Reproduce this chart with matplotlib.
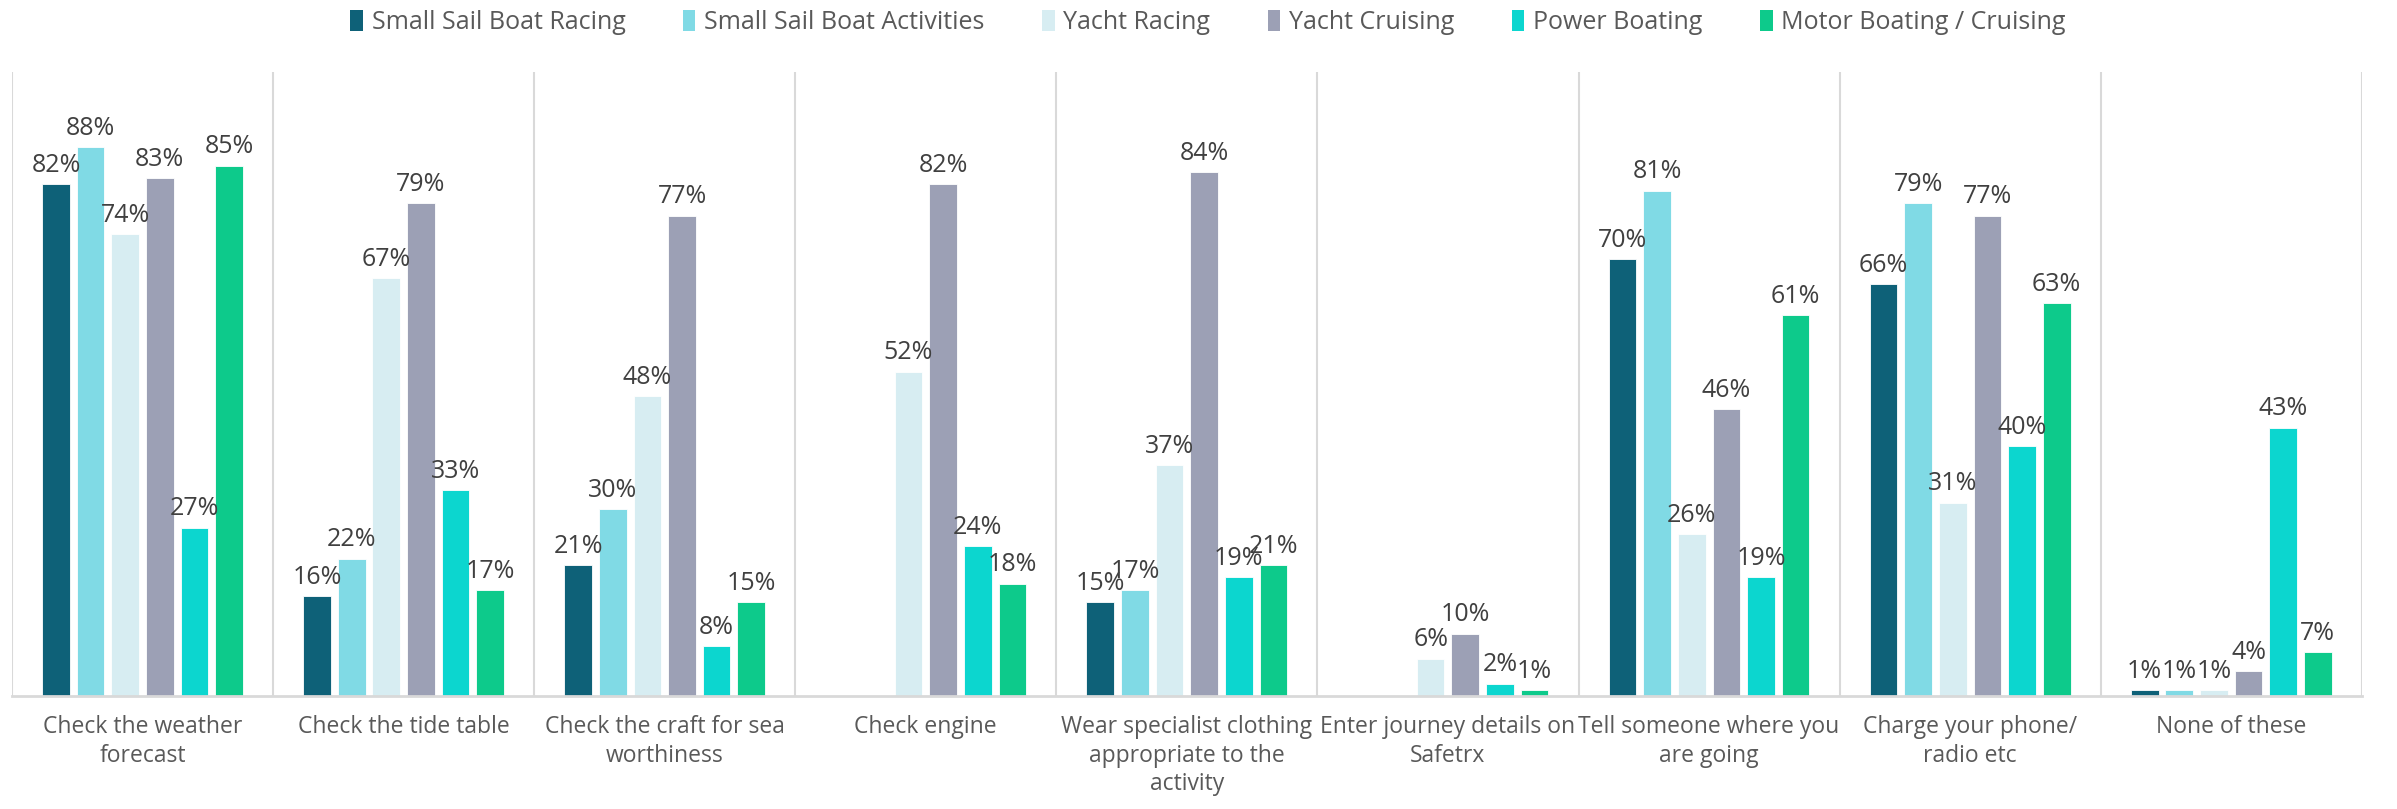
import numpy as np
import matplotlib.pyplot as plt
from matplotlib.patches import Patch

plt.rcParams['font.family'] = ['Open Sans', 'DejaVu Sans']

categories = [
    'Check the weather\nforecast',
    'Check the tide table',
    'Check the craft for sea\nworthiness',
    'Check engine',
    'Wear specialist clothing\nappropriate to the\nactivity',
    'Enter journey details on\nSafetrx',
    'Tell someone where you\nare going',
    'Charge your phone/\nradio etc',
    'None of these',
]
series_names = ['Small Sail Boat Racing', 'Small Sail Boat Activities', 'Yacht Racing',
                'Yacht Cruising', 'Power Boating', 'Motor Boating / Cruising']

small_sail_racing = [82, 16, 21, None, 15, None, 70, 66, 1]
small_sail_activities = [88, 22, 30, None, 17, None, 81, 79, 1]
yacht_racing = [74, 67, 48, 52, 37, 6, 26, 31, 1]
yacht_cruising = [83, 79, 77, 82, 84, 10, 46, 77, 4]
power_boating = [27, 33, 8, 24, 19, 2, 19, 40, 43]
motor_boating = [85, 17, 15, 18, 21, 1, 61, 63, 7]

colors = ['#0E6178', '#80DAE5', '#D7EDF2', '#9CA0B5', '#0CD6CF', '#0DCA8B']

all_series = [small_sail_racing, small_sail_activities, yacht_racing,
              yacht_cruising, power_boating, motor_boating]

fig = plt.figure(figsize=(23.97, 8.09), dpi=100)
ax = fig.add_axes([0.005, 0.1397, 0.9803, 0.7713])

n = len(categories)
x = np.arange(n)
step = 0.1326
width = 0.106

for i, (vals, col) in enumerate(zip(all_series, colors)):
    pos = x + (i - 2.5) * step
    for p, v in zip(pos, vals):
        if v is None:
            continue
        ax.bar(p, v / 100, width=width, color=col, edgecolor='white', linewidth=0.6, zorder=2)
        ax.text(p, v / 100 + 0.01, f'{v}%', ha='center', va='bottom',
                fontsize=18, color='#404040', zorder=3)

ax.set_xlim(-0.5, n - 0.5)
ax.set_ylim(0, 1.0)

# group separators
for b in np.arange(-0.5, n, 1.0):
    ax.axvline(b, color='#D9D9D9', linewidth=1.5, zorder=1)

for s in ['top', 'right', 'left']:
    ax.spines[s].set_visible(False)
ax.spines['bottom'].set_color('#D9D9D9')
ax.spines['bottom'].set_linewidth(2)

ax.set_yticks([])
ax.set_xticks(x)
ax.set_xticklabels(categories, fontsize=16.5, color='#595959', linespacing=1.25)
ax.tick_params(axis='x', length=0, pad=14)

handles = [Patch(facecolor=c, edgecolor='none') for c in colors]
fig.legend(handles, series_names, loc='center', bbox_to_anchor=(0.504, 0.972), ncol=6,
           frameon=False, fontsize=18, labelcolor='#595959',
           handlelength=0.5, handleheight=0.9, handletextpad=0.35, columnspacing=2.3)

plt.savefig('out.png', dpi=100)
